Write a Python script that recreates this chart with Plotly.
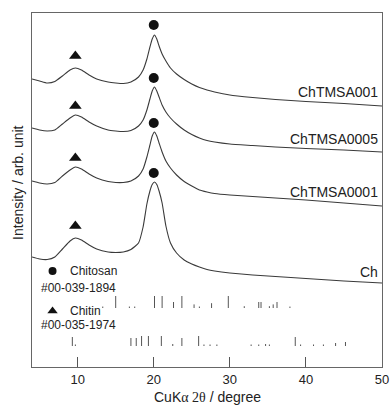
import plotly.graph_objects as go

two_theta = [4, 5, 6, 7, 8, 9, 9.7, 10.5, 11.5, 12.5, 14, 15, 16, 17, 18,
             18.6, 19.1, 19.5, 19.8, 20.1, 20.4, 20.7, 21.1, 21.6, 22.2,
             23, 24, 25, 26, 27, 28, 30, 33, 36, 40, 45, 50]

# intensities (arb. unit, stacked offsets included)
ChTMSA001 = [288, 286, 284, 285.5, 291, 297, 299, 297, 292, 288, 285, 284, 283.5, 285, 290,
             297, 308, 320, 328, 332, 328, 321, 313, 306, 299,
             293, 287.5, 283, 279.5, 277, 275, 272, 269.5, 267.5, 265.5, 263.5, 261]
ChTMSA0005 = [239, 237, 236, 237, 243, 249, 252, 250, 245, 241, 237, 236, 235.5, 236.5, 241,
              247, 257, 268, 276, 280, 276, 270, 262, 255, 249,
              243, 237, 232.5, 229, 226.5, 225, 223, 221.5, 220, 218.5, 217, 215]
ChTMSA0001 = [186, 184, 183, 184.5, 191, 197, 200, 198, 193, 189, 185.5, 184.5, 184.5, 186, 191,
              198, 210, 222, 231, 235, 231, 224, 215, 206, 199,
              192, 185.5, 181, 177, 175, 173.5, 172, 170.5, 169, 167, 164, 161]
Ch = [110, 108, 107.5, 110, 118, 126, 129, 127, 122, 118, 115, 114.5, 115, 117.5, 124,
      140, 163, 176, 182.5, 185, 182.5, 176, 164, 141, 124,
      114, 107, 103, 100, 97.5, 96, 94, 92, 90.5, 88.5, 86, 84]

series_names = ["ChTMSA001", "ChTMSA0005", "ChTMSA0001", "Ch"]
series_values = [ChTMSA001, ChTMSA0005, ChTMSA0001, Ch]
label_y = [275, 228, 175, 95]

# peak markers
chitosan_peak_x = 20.0
chitosan_peak_y = [342, 289, 244, 194]
chitin_peak_x = 9.7
chitin_peak_y = [311, 261, 209, 141]

# reference patterns (2theta, relative height)
chitosan_ref_pos = [13.3, 15.0, 16.8, 17.5, 20.1, 21.1, 22.6, 23.7, 25.3, 26.0, 27.6,
                    29.8, 31.9, 33.8, 34.1, 35.2, 35.7, 36.2, 37.9]
chitosan_ref_h = [0.12, 1.0, 0.12, 0.12, 1.0, 1.0, 0.5, 1.0, 0.3, 0.12, 0.4,
                  1.0, 0.15, 0.5, 0.5, 0.15, 0.3, 0.5, 0.12]
chitin_ref_pos = [9.3, 9.7, 17.0, 17.7, 18.4, 19.3, 21.0, 22.5, 23.7, 25.9, 26.6, 27.4,
                  28.3, 32.8, 33.8, 34.7, 35.2, 38.6, 39.3, 41.0, 42.3, 43.9, 45.2]
chitin_ref_h = [0.9, 0.15, 0.8, 0.8, 1.0, 1.0, 1.0, 0.2, 0.8, 1.0, 0.15, 0.15,
                0.15, 0.15, 0.15, 0.2, 0.15, 0.9, 0.15, 0.15, 0.15, 0.3, 0.4]
chitosan_ref_base, chitosan_ref_scale = 59, 12
chitin_ref_base, chitin_ref_scale = 21, 10

x_ticks = [10, 20, 30, 40, 50]

FONT = "Liberation Sans, Arial, sans-serif"
LINE = "#3a3a3a"

fig = go.Figure()

for name, vals in zip(series_names, series_values):
    fig.add_trace(go.Scatter(x=two_theta, y=vals, mode="lines", name=name,
                             line=dict(color=LINE, width=1.1, shape="spline", smoothing=0.5),
                             showlegend=False, hoverinfo="skip"))

fig.add_trace(go.Scatter(x=[chitosan_peak_x] * len(chitosan_peak_y), y=chitosan_peak_y,
                         mode="markers", marker=dict(symbol="circle", size=10, color="#111"),
                         showlegend=False))
fig.add_trace(go.Scatter(x=[chitin_peak_x] * len(chitin_peak_y), y=chitin_peak_y,
                         mode="markers", marker=dict(symbol="triangle-up", size=11, color="#111"),
                         showlegend=False))


def sticks(pos, h, base, scale):
    xs, ys = [], []
    for p, v in zip(pos, h):
        xs += [p, p, None]
        ys += [base, base + v * scale, None]
    return xs, ys


for pos, h, base, sc in [(chitosan_ref_pos, chitosan_ref_h, chitosan_ref_base, chitosan_ref_scale),
                         (chitin_ref_pos, chitin_ref_h, chitin_ref_base, chitin_ref_scale)]:
    xs, ys = sticks(pos, h, base, sc)
    fig.add_trace(go.Scatter(x=xs, y=ys, mode="lines", line=dict(color="#555", width=1),
                             showlegend=False, hoverinfo="skip"))

# legend symbols
fig.add_trace(go.Scatter(x=[6.7], y=[96], mode="markers",
                         marker=dict(symbol="circle", size=8, color="#111"), showlegend=False))
fig.add_trace(go.Scatter(x=[6.7], y=[56], mode="markers",
                         marker=dict(symbol="triangle-up", size=9, color="#111"), showlegend=False))

ann = []
for name, ly in zip(series_names, label_y):
    ann.append(dict(x=49.75, y=ly, text=name, showarrow=False, xanchor="right", yanchor="middle",
                    font=dict(family=FONT, size=14, color="#222")))
ann += [
    dict(x=8.7, y=96, text="Chitosan", showarrow=False, xanchor="left", yanchor="middle",
         font=dict(family=FONT, size=12, color="#222")),
    dict(x=10.1, y=79, text="#00-039-1894", showarrow=False, xanchor="center", yanchor="middle",
         font=dict(family=FONT, size=12, color="#222")),
    dict(x=8.7, y=56, text="Chitin", showarrow=False, xanchor="left", yanchor="middle",
         font=dict(family=FONT, size=12, color="#222")),
    dict(x=10.1, y=42, text="#00-035-1974", showarrow=False, xanchor="center", yanchor="middle",
         font=dict(family=FONT, size=12, color="#222")),
    dict(x=-0.04, y=0.52, xref="paper", yref="paper", text="Intensity / arb. unit",
         showarrow=False, textangle=-90, xanchor="center", yanchor="middle",
         font=dict(family=FONT, size=14, color="#222")),
    dict(x=0.5, y=-0.085, xref="paper", yref="paper",
         text="CuK<span style='font-family:Liberation Serif'>α 2θ</span> / degree",
         showarrow=False, xanchor="center", yanchor="middle",
         font=dict(family=FONT, size=14, color="#222")),
]

fig.update_layout(
    width=391, height=408,
    margin=dict(l=32, r=9, t=13, b=41, autoexpand=False),
    paper_bgcolor="white", plot_bgcolor="white",
    showlegend=False,
    annotations=ann,
    xaxis=dict(range=[4, 50], tickvals=x_ticks, ticks="inside", ticklen=10, tickwidth=1,
               tickcolor="#555", showgrid=False, zeroline=False, showline=True,
               linecolor="#666", linewidth=1.2, mirror=True, automargin=False,
               tickfont=dict(family=FONT, size=13, color="#222")),
    yaxis=dict(range=[0, 354], showticklabels=False, ticks="", showgrid=False,
               zeroline=False, showline=True, linecolor="#666", linewidth=1.2, mirror=True,
               automargin=False),
)

fig.write_html("out.html")
